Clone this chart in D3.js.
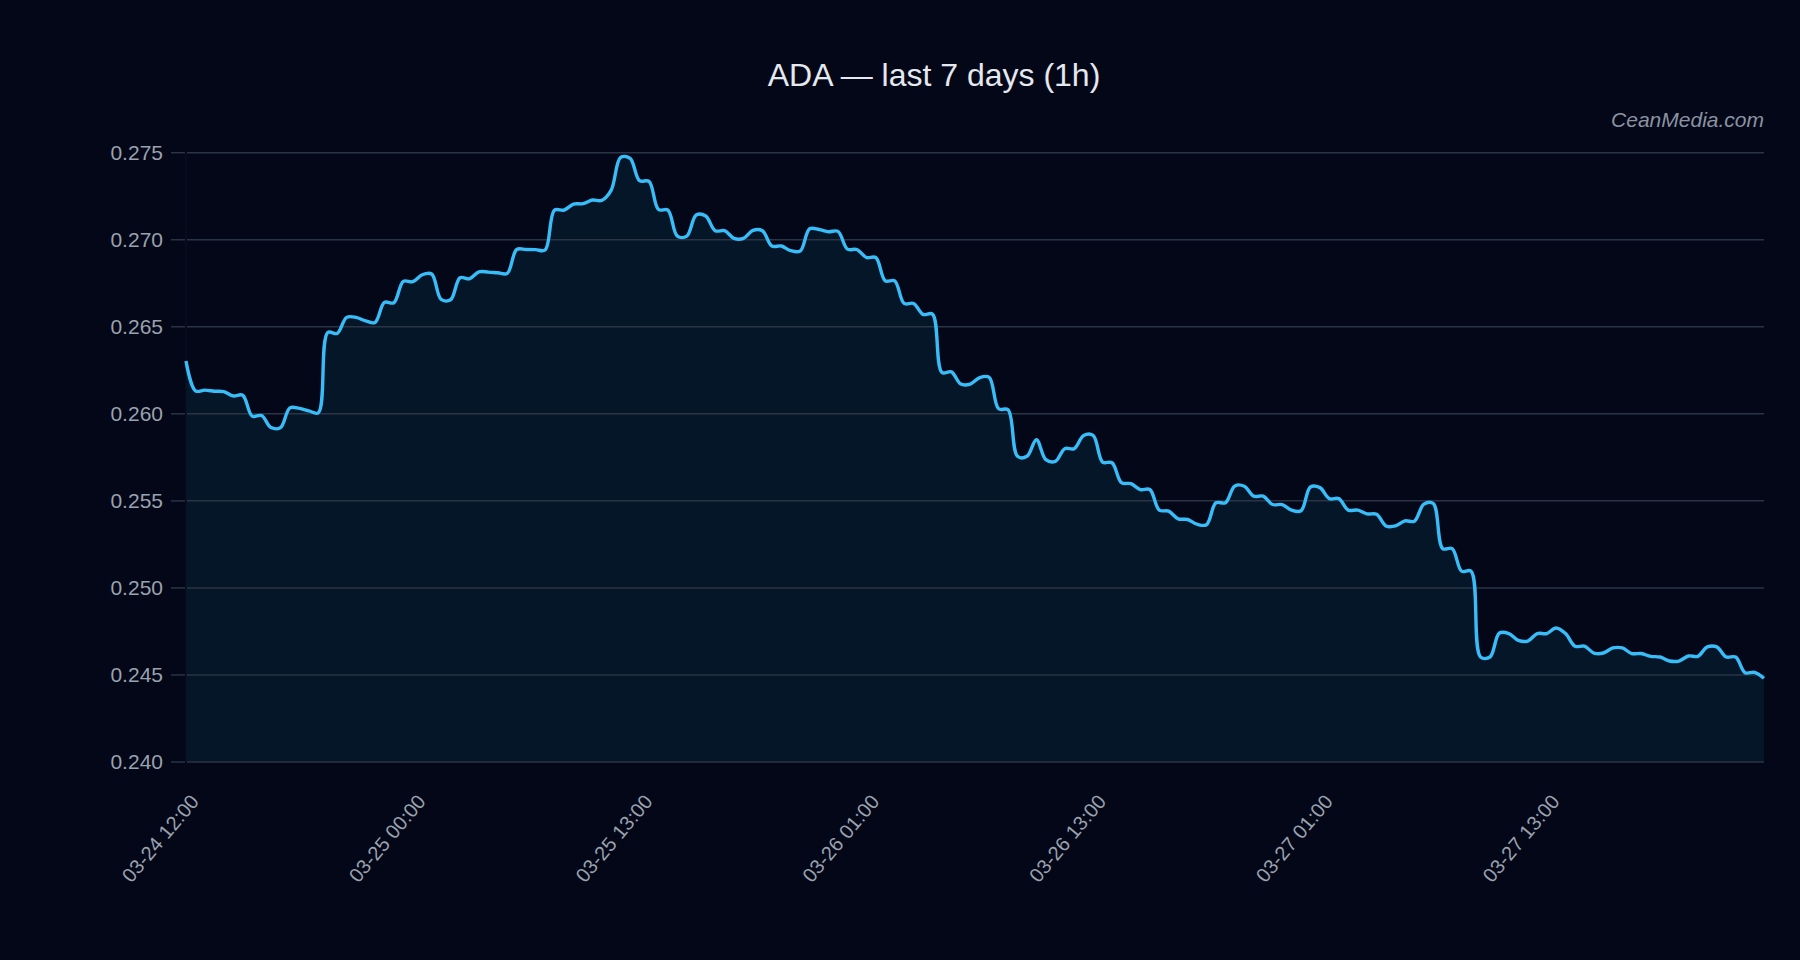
<!DOCTYPE html>
<html lang="en">

<head>
    <meta charset="UTF-8">
    <title>ADA — last 7 days (1h)</title>
    <script src="https://d3js.org/d3.v7.min.js"></script>
    <style>
        body {
            margin: 0;
            padding: 0;
            overflow: hidden;
            background: #030718;
            font-family: "Liberation Sans", Arial, sans-serif;
        }

        .grid line {
            stroke: #2a3444;
            stroke-width: 1.5px;
        }

        .tick-label {
            fill: #9aa2ae;
        }
    </style>
</head>

<body>
<script>
    // hourly closes, 168 points
    const prices = [
        0.26303, 0.26132, 0.26136, 0.26130, 0.26128, 0.26103, 0.26107, 0.25987, 0.25990, 0.25921,
        0.25921, 0.26034, 0.26031, 0.26017, 0.26006, 0.26467, 0.26462, 0.26554, 0.26554, 0.26534,
        0.26525, 0.26640, 0.26638, 0.26761, 0.26759, 0.26799, 0.26803, 0.26657, 0.26655, 0.26782,
        0.26776, 0.26816, 0.26814, 0.26810, 0.26807, 0.26944, 0.26944, 0.26943, 0.26941, 0.27170,
        0.27170, 0.27205, 0.27207, 0.27228, 0.27226, 0.27285, 0.27473, 0.27467, 0.27339, 0.27335,
        0.27174, 0.27170, 0.27021, 0.27021, 0.27142, 0.27136, 0.27052, 0.27052, 0.27008, 0.27008,
        0.27054, 0.27052, 0.26964, 0.26964, 0.26937, 0.26935, 0.27063, 0.27059, 0.27046, 0.27048,
        0.26946, 0.26944, 0.26898, 0.26898, 0.26764, 0.26764, 0.26634, 0.26634, 0.26571, 0.26573,
        0.26238, 0.26241, 0.26171, 0.26171, 0.26208, 0.26210, 0.26029, 0.26023, 0.25756, 0.25756,
        0.25851, 0.25737, 0.25727, 0.25800, 0.25800, 0.25876, 0.25876, 0.25723, 0.25719, 0.25605,
        0.25599, 0.25565, 0.25565, 0.25447, 0.25441, 0.25397, 0.25393, 0.25366, 0.25363, 0.25489,
        0.25489, 0.25586, 0.25584, 0.25527, 0.25527, 0.25479, 0.25479, 0.25447, 0.25443, 0.25580,
        0.25576, 0.25513, 0.25513, 0.25447, 0.25447, 0.25425, 0.25423, 0.25356, 0.25356, 0.25385,
        0.25383, 0.25481, 0.25485, 0.25226, 0.25226, 0.25096, 0.25096, 0.24603, 0.24603, 0.24741,
        0.24738, 0.24699, 0.24695, 0.24738, 0.24738, 0.24770, 0.24738, 0.24665, 0.24665, 0.24626,
        0.24626, 0.24655, 0.24655, 0.24623, 0.24623, 0.24607, 0.24603, 0.24580, 0.24580, 0.24609,
        0.24607, 0.24661, 0.24661, 0.24603, 0.24603, 0.24513, 0.24515, 0.24481
    ];

    // x labels sit on every 24th point
    const labelIndex = [0, 24, 48, 72, 96, 120, 144];
    const labelText = ["03-24 12:00", "03-25 00:00", "03-25 13:00", "03-26 01:00",
        "03-26 13:00", "03-27 01:00", "03-27 13:00"];

    const yTicks = [0.240, 0.245, 0.250, 0.255, 0.260, 0.265, 0.270, 0.275];

    const width = 1800;
    const height = 960;
    const margin = { top: 152.7, right: 36, bottom: 198, left: 186 };

    const svg = d3.select("body").append("svg")
        .attr("width", width)
        .attr("height", height);

    const x = d3.scaleLinear()
        .domain([0, prices.length - 1])
        .range([margin.left, width - margin.right]);

    const y = d3.scaleLinear()
        .domain([0.240, 0.275])
        .range([height - margin.bottom, margin.top]);

    const curve = d3.curveCatmullRom.alpha(0.5);

    // area under the line
    const area = d3.area()
        .x((d, i) => x(i))
        .y0(y(0.240))
        .y1(d => y(d))
        .curve(curve);

    svg.append("path")
        .datum(prices)
        .attr("fill", "#061629")
        .attr("d", area);

    // faint left edge
    svg.append("line")
        .attr("x1", margin.left).attr("x2", margin.left)
        .attr("y1", y(0.275)).attr("y2", y(0.240))
        .attr("stroke", "#0b1324")
        .attr("stroke-width", 1);

    // horizontal grid + y ticks
    const grid = svg.append("g").attr("class", "grid");

    grid.selectAll(".gl")
        .data(yTicks)
        .enter().append("line")
        .attr("class", "gl")
        .attr("x1", margin.left + 1)
        .attr("x2", width - margin.right)
        .attr("y1", d => y(d))
        .attr("y2", d => y(d));

    grid.selectAll(".tk")
        .data(yTicks)
        .enter().append("line")
        .attr("class", "tk")
        .attr("x1", margin.left - 15)
        .attr("x2", margin.left - 1)
        .attr("y1", d => y(d))
        .attr("y2", d => y(d));

    svg.selectAll(".ylab")
        .data(yTicks)
        .enter().append("text")
        .attr("class", "tick-label ylab")
        .attr("x", margin.left - 23)
        .attr("y", d => y(d))
        .attr("dy", "0.35em")
        .attr("text-anchor", "end")
        .style("font-size", "21px")
        .text(d => d3.format(".3f")(d));

    // price line
    const line = d3.line()
        .x((d, i) => x(i))
        .y(d => y(d))
        .curve(curve);

    svg.append("path")
        .datum(prices)
        .attr("fill", "none")
        .attr("stroke", "#38bdf8")
        .attr("stroke-width", 3.4)
        .attr("stroke-linejoin", "round")
        .attr("d", line);

    // rotated x labels
    svg.selectAll(".xlab")
        .data(labelIndex)
        .enter().append("text")
        .attr("class", "tick-label xlab")
        .attr("text-anchor", "end")
        .attr("transform", d => `translate(${x(d) + 14},${y(0.240) + 40}) rotate(-50)`)
        .style("font-size", "20px")
        .text((d, i) => labelText[i]);

    // title
    svg.append("text")
        .attr("x", 934)
        .attr("y", 86)
        .attr("text-anchor", "middle")
        .attr("fill", "#e5e8ee")
        .style("font-size", "32px")
        .text("ADA — last 7 days (1h)");

    // watermark
    svg.append("text")
        .attr("x", width - margin.right)
        .attr("y", 127)
        .attr("text-anchor", "end")
        .attr("fill", "#8b93a1")
        .style("font-size", "21px")
        .style("font-style", "italic")
        .text("CeanMedia.com");
</script>
</body>

</html>
